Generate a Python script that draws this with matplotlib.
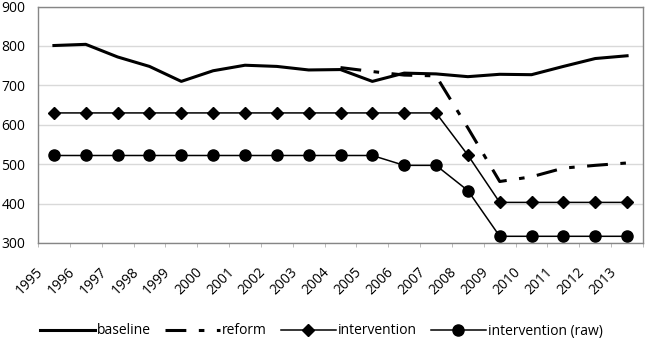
import matplotlib
matplotlib.use("Agg")
import matplotlib.pyplot as plt
import matplotlib.transforms as mtransforms
import numpy as np

years = [str(y) for y in range(1995, 2014)]
baseline = [801, 804, 772, 748, 710, 737, 751, 748, 739, 740, 710, 731, 729, 722, 728, 727, 748, 768, 775]
reform_years = [str(y) for y in range(2004, 2014)]
reform = [745, 735, 726, 724, 592, 456, 468, 490, 497, 503]
intervention = [630] * 13 + [523] + [403] * 5
intervention_raw = [522] * 11 + [497, 497, 433] + [317] * 5

plt.rcParams['font.family'] = ['Open Sans', 'DejaVu Sans']
plt.rcParams['lines.scale_dashes'] = False

W, H = 650, 341
fig = plt.figure(figsize=(W / 100, H / 100), dpi=100)
ax = fig.add_axes([38 / W, 1 - 243 / H, (643 - 38) / W, (243 - 6.5) / H])

x = np.arange(len(years))
xr = np.array([years.index(y) for y in reform_years])

ax.plot(x, baseline, color='black', lw=2.2, label='baseline', solid_joinstyle='round', zorder=3)
ax.plot(xr, reform, color='black', lw=2.2, dashes=(15, 9, 4, 9), label='reform', zorder=3)
ax.plot(x, intervention, color='black', lw=1.1, marker='D', markersize=6, label='intervention', zorder=4)
ax.plot(x, intervention_raw, color='black', lw=1.1, marker='o', markersize=8, label='intervention (raw)', zorder=4)

ax.set_xlim(-0.5, len(years) - 0.5)
ax.set_ylim(300, 900)
ax.set_yticks(range(300, 901, 100))
ax.grid(axis='y', color='#d9d9d9', lw=1.0)
ax.set_axisbelow(True)
for s in ax.spines.values():
    s.set_color('#868686')
    s.set_linewidth(1.0)

ax.tick_params(axis='y', length=0, pad=9, labelsize=10)
ax.set_xticks(x)
ax.set_xticklabels(years, rotation=45, ha='right', va='center', rotation_mode='anchor', fontsize=10)
ax.tick_params(axis='x', which='major', length=0, pad=19.5)
ax.set_xticks(np.arange(-0.5, len(years), 1.0), minor=True)
ax.tick_params(axis='x', which='minor', length=3, color='#b0b0b0', direction='out')
offset = mtransforms.ScaledTranslation(-13 / 100, 0, fig.dpi_scale_trans)
for lbl in ax.get_xticklabels():
    lbl.set_transform(lbl.get_transform() + offset)

fig.legend(loc='center', bbox_to_anchor=(321.5 / W, 1 - 331 / H), ncol=4, frameon=False,
           fontsize=10, handlelength=3.96, handletextpad=0.15, columnspacing=1.0)

fig.savefig('out.png', dpi=100)
